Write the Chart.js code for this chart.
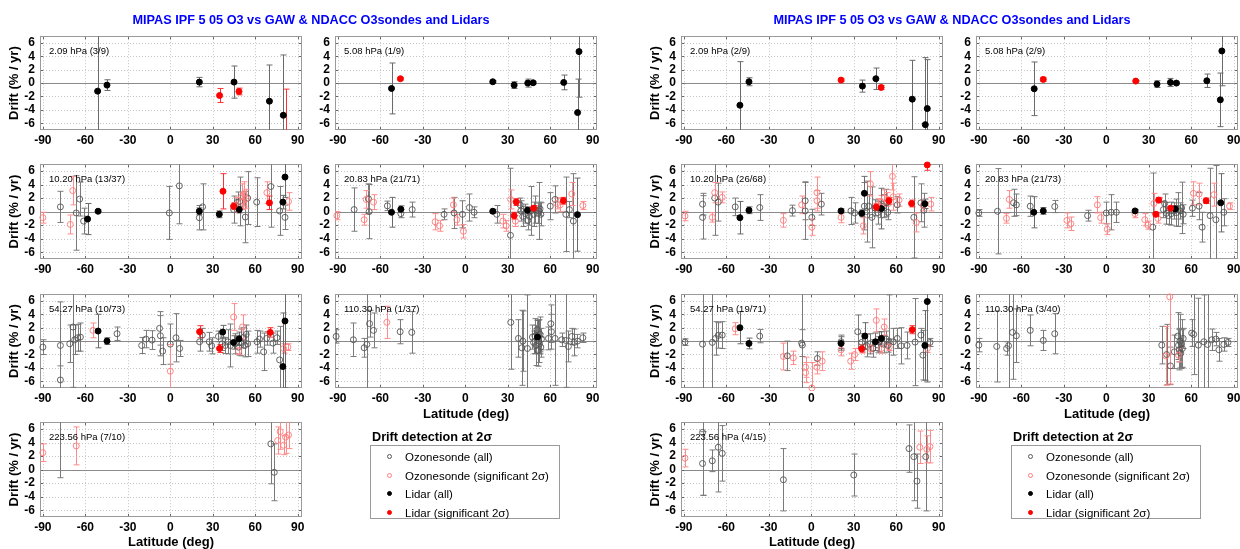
<!DOCTYPE html>
<html>
<head>
<meta charset="utf-8">
<script src="https://cdn.jsdelivr.net/npm/chart.js@4.4.0/dist/chart.umd.min.js"></script>
<style>
  body { margin: 0; background: #fff; width: 1240px; height: 549px; position: relative; overflow: hidden;
         font-family: "Liberation Sans", Arial, sans-serif; }
  canvas { position: absolute; }
  .txt { position: absolute; white-space: nowrap; color: #000; }
  .title { color: #0000ff; font-weight: bold; font-size: 12.7px; line-height: 14px; transform: translateX(-50%); }
  .xlab { font-weight: bold; font-size: 13px; line-height: 15px; transform: translateX(-50%); }
  .legtitle { font-weight: bold; font-size: 12.7px; line-height: 14px; }
  .legbox { position: absolute; border: 1px solid #9a9a9a; width: 190px; height: 74px; box-sizing: border-box; }
  .row { position: absolute; left: 0; height: 14px; font-size: 11.5px; line-height: 14px; }
  .mk { position: absolute; left: 16px; top: 4px; width: 5px; height: 5px; border-radius: 50%; box-sizing: border-box; }
  .row span.l { position: absolute; left: 34px; top: 0; }
</style>
</head>
<body>
<script>
// axes
const xTicks = [-90, -60, -30, 0, 30, 60, 90];
const yTicks = [-6, -4, -2, 0, 2, 4, 6];

// [latitude, drift %/yr, error]
// ---- left figure ----
const L1_lidarAll = [[-51.3,-1.2,9],[-44.7,-0.3,0.8],[20.5,0.15,0.7],[45,0.15,2.4],[70,-2.7,5.4],[79.8,-4.8,9]];
const L1_lidarSig = [[34.8,-1.85,1.05],[48.5,-1.25,0.5],[81.5,-9,8.1]];

const L2_lidarAll = [[-52.1,-0.8,3.8],[19.4,0.2,0.15],[34.5,-0.3,0.5],[44.1,0,0.6],[47.9,0.05,0.2],[69.5,0.1,1.1],[80.3,4.7,6.8],[79.3,-4.4,5]];
const L2_lidarSig = [[-45.8,0.65,0.2]];

const L3_sondeAll = [[-77.6,0.7,2.3],[-66.4,-0.2,5.5],[-64,1.85,2.5],[-61.2,-1.4,1.9],[-0.7,-0.2,3.9],[6.4,3.8,5.6],[20.5,-0.9,1.8],[22.8,0.7,3.4],[44.7,0.3,2],[47.5,1.4,1.5],[49,1.5,3.6],[53,-0.8,3.8],[54.6,2,3.9],[61,1.4,3.6],[71,3.7,6],[77.2,0.1,3.6],[81,-0.85,1.8]];
const L3_sondeSig = [[-90,-0.9,0.8],[-68.9,3.1,2.1],[-70.6,-1.9,1.4],[46.5,1,1.1],[50.5,2.2,1.9],[51.2,1.6,1.2],[52,2.6,1.8],[53.5,1.9,1.4],[68.2,2.8,1.6],[83.5,1.5,1.3]];
const L3_lidarAll = [[-58.4,-1.1,2.3],[-51,0.05,0.2],[20.5,0.05,0.5],[34.6,-0.4,0.5],[48.7,0.3,0.5],[79.5,1.4,1],[81,5.1,3]];
const L3_lidarSig = [[37.2,3,2.6],[44.7,0.8,0.5],[70,1.3,1]];

const L4_sondeAll = [[-78.5,0.3,3.2],[-68.4,1.9,2.2],[-67.9,0,4],[-55,0.85,0.7],[-45.5,-0.3,0.6],[-37.5,0.3,1.1],[-15,-0.4,0.8],[-7.9,-0.2,2.3],[-2,-0.4,2],[2.9,0.6,2],[6.2,-0.1,0.8],[22.2,-0.4,1.3],[31.9,-3.5,9.9],[38.7,1,1],[39.2,0.1,1.5],[40.6,-0.7,1.5],[42.5,-0.3,1.4],[44.1,-1.3,1.4],[45.3,-0.7,1.3],[46.5,0.1,3.6],[48.2,-0.4,1.8],[49.5,0.3,2],[51,-0.25,1.5],[52,0.1,4.2],[52.8,0.4,1],[53.3,-0.4,1.7],[60,0.8,2],[63.4,1.8,2],[71,-0.4,5.5],[73.5,0.3,1.2],[76.3,-1.4,7]];
const L4_sondeSig = [[-90.7,-0.6,0.6],[-71.4,-1.2,0.8],[-70,1.8,1.3],[-64.8,1.4,1.1],[-21.3,-1.5,1.2],[-18.2,-2.1,0.8],[-8.4,1,1],[-6,-1.2,0.8],[-1.3,-2.9,1],[26.5,-1.4,1],[28.8,-2.1,0.8],[32,1.8,1.4],[35.4,-1.4,0.8],[64.5,1.2,0.8],[67,1,1],[75.2,2.6,1.7],[83,0.9,0.6]];
const L4_lidarAll = [[-52.1,-0.1,2.2],[-45.5,0.35,0.5],[19.4,0.05,0.3],[43.9,0.2,0.5],[79.2,-0.45,5.4]];
const L4_lidarSig = [[34.5,-0.6,0.5],[36,1.4,0.5],[48.2,0.5,0.4],[69.3,1.6,0.5]];

const L5_sondeAll = [[-90,-0.9,1.1],[-77.6,-5.8,2.1],[-77.6,-0.65,6.5],[-71,-0.4,2.8],[-68.7,2.1,9],[-67.5,0.2,2.2],[-65.4,0.5,2],[-63.5,0.6,2.1],[-37.6,1.1,1],[-20.2,-0.65,1.2],[-17.2,0.3,1.3],[-12.9,0.15,1.4],[-7.6,1.9,2.5],[-7,0.8,3],[-5.4,-1.5,2],[0,-0.45,3],[4,0.5,3.6],[6.6,-1.1,1.2],[20.7,-0.1,1.4],[22.6,0.9,1],[27.5,-0.1,1.4],[29.2,-0.7,1.2],[34,0.7,0.8],[36.5,-0.4,1],[38.8,-0.65,1.2],[40.7,-0.1,1.8],[42.4,-0.65,3.2],[45.9,-0.4,1.5],[48.2,-0.9,1.2],[49.9,-0.2,2],[51.3,0.5,1.5],[52.5,-0.65,1.7],[53.6,1,1.4],[54.6,-0.4,1.9],[61.2,-0.1,1.7],[63,0.3,1.2],[65.9,-1.6,2.8],[68,0.4,1],[72.5,-0.3,1.5],[75.3,0.5,1],[77.2,-2.8,5]];
const L5_sondeSig = [[-54.6,1.6,1.1],[0,-4.5,4],[44.7,3.6,2],[48.2,-1.5,0.5],[51,2.1,1.8],[80,-1.1,0.7],[83,-0.9,0.5]];
const L5_lidarAll = [[-51,1.5,2.5],[-44.7,0,0.5],[37,1.35,1],[44.7,-0.2,1],[48.5,0.35,1],[81,3,10],[79.5,-3.8,8]];
const L5_lidarSig = [[20.7,1.4,0.9],[34.8,-1.1,0.6],[70.6,1.3,0.7]];

const L6_sondeAll = [[-91.2,0.7,1],[-79,0.2,2.5],[-71.4,-1,1.4],[-69.5,-0.5,8],[-67.6,2.6,2],[-64.8,1.6,2.6],[-46,1.4,1.8],[-37.8,1.3,3.1],[32.1,2.8,7],[37.5,0.4,2.8],[39.9,-1,5.6],[40.6,0,4.5],[43.9,-1.1,8],[47.4,0.6,1.8],[48.2,-0.2,1.7],[49.2,0.75,2.6],[50,-0.65,3],[50.7,1.7,1.4],[51.2,-1.35,2.4],[51.9,0,3.2],[52.4,-0.4,1.5],[52.8,1,2.6],[53.3,-0.9,1.5],[53.8,0.3,1.6],[58.7,0.4,1.7],[60.4,2.6,2.8],[60.8,1.4,2.6],[63.4,0.4,7],[68.1,0.2,1],[71,0.1,7],[72.8,-0.8,2.3],[75.2,0.7,1.2],[76.9,-0.2,2],[79.2,0,1],[83,0.5,0.7]];
const L6_sondeSig = [[-55.4,2.8,2.4]];
const L6_lidarAll = [[51,0.6,2.5]];

const L7_sondeAll = [[-78,8,9.2],[71,3.8,5.9],[73.4,-0.4,4.2]];
const L7_sondeSig = [[-90,2.5,1.3],[-66.4,3.5,2.8],[75.8,4.3,2],[77.6,5.6,2.6],[80,3.6,1.4],[81.4,4.8,2.4],[83.5,5.1,2]];

// ---- right figure ----
const R1_lidarAll = [[-50.4,-3.3,6.5],[-44,0.2,0.6],[36.1,-0.45,0.9],[45.6,0.65,1.6],[71.3,-2.4,5.8],[81.9,-3.8,7.3],[80.5,-6.2,10]];
const R1_lidarSig = [[21,0.45,0.2],[49.3,-0.65,0.3]];

const R2_lidarAll = [[-50.9,-0.85,4],[35.8,-0.15,0.5],[45.3,0.1,0.6],[49.5,0,0.2],[71,0.35,1],[81.6,4.8,5.2],[80.5,-2.5,4]];
const R2_lidarSig = [[-44.5,0.55,0.3],[20.8,0.3,0.1]];

const R3_sondeAll = [[-76.8,1.1,1.6],[-76.8,-0.85,3.2],[-68.2,2,5.5],[-65.7,1.4,2.8],[-53.7,0.7,1.3],[-36.4,0.6,1.9],[-13.3,0.15,0.8],[-4.3,1.6,2.8],[-4.3,0.1,4.2],[0.4,-0.85,1.2],[7.1,1.1,1.6],[28,0.1,2],[30.6,-0.2,1.5],[37.5,0.8,3.5],[39,0,4.5],[40.6,0.8,1.7],[42.8,-0.85,4.5],[44.8,0.55,1.2],[46.8,-0.15,1.7],[48.7,0.3,1.2],[51,0.8,1.7],[52.9,1.3,2],[54,-0.1,1.1],[60.7,1,1.2],[72.4,-0.85,6],[77.4,1.3,2.8],[79.5,0.2,2.5]];
const R3_sondeSig = [[-89.2,-0.65,0.7],[-69.9,-0.85,0.7],[-68.2,2.8,1.5],[-62.9,2.1,0.8],[-19.7,-1.3,1],[-6.8,1,1.3],[0.4,-2.3,1.2],[4,2.8,2.3],[4,1.6,1.5],[21,-0.85,0.8],[36.7,-2.1,1.2],[41.7,4.1,1.8],[46.8,1,0.9],[49.5,1.4,1],[51.5,2,1.2],[53.7,1.8,1],[57.3,5.2,2],[57.9,2.2,2],[62,1.7,0.9],[74.1,-1.6,1.4],[79,0.9,0.8],[84.4,1.1,1]];
const R3_lidarAll = [[-50.4,-0.9,2.4],[-44,0.2,0.5],[21,0.1,0.3],[35.6,-0.25,0.5],[37.5,2.7,2.5],[49.5,0.45,3],[80.2,1.15,0.7]];
const R3_lidarSig = [[45.9,0.65,0.5],[54.8,1.6,0.5],[70.8,1.2,0.5],[81.9,6.9,0.8]];

const R4_sondeAll = [[-90,-0.2,0.5],[-76.8,0.05,6.3],[-65.5,1.3,2],[-63.5,1,1.6],[-53.7,0.8,1.5],[-36.4,0.75,0.9],[-13.2,-0.6,0.8],[0,-0.2,1.6],[3.5,-0.1,2.6],[7.1,-0.1,1.5],[32.8,-2.3,8],[40.3,0.3,1.2],[41.2,1.2,1.4],[42.5,-0.25,1.6],[44,-0.6,1.3],[45.9,-0.3,1.7],[47.6,0.1,1.2],[49.5,-0.15,2],[50.9,0.3,2.5],[52.3,0.1,1.2],[53.2,0.55,3.8],[54.3,-0.4,1.4],[60.8,0.5,1.2],[65.5,0.8,2],[67.7,-2.3,2.2],[73.3,-0.6,7],[77.4,-1.2,8],[83,-0.1,2]];
const R4_sondeSig = [[-70.5,-1,0.7],[-68.5,1.8,1.3],[-27.8,-1.3,1.1],[-25,-1.8,1],[-6.3,1,1.2],[-4,-0.9,0.8],[0.7,-2.6,0.8],[20.3,-0.3,0.6],[27.2,-1.2,0.9],[29.4,-2,0.6],[33.6,1.2,1.5],[36.4,-1,0.7],[61.5,2.7,1.7],[65.5,2.6,1.6],[76,2.5,1.7],[87,0.8,0.5]];
const R4_lidarAll = [[-51.2,-0.1,2.3],[-44.5,0.1,0.5],[20.3,0.1,0.2],[48.7,0.4,0.5],[80.8,1.3,4.3]];
const R4_lidarSig = [[35,-0.4,0.3],[37,1.7,0.4],[45.4,0.5,0.3],[70.5,1.6,0.4]];

const R5_sondeAll = [[-89.2,-0.15,0.5],[-76.8,-0.45,9],[-69.9,-0.2,8],[-67.6,0.4,2.5],[-65.7,0.85,1.9],[-62.9,0.9,2],[-36.4,0.75,1],[-16.9,-2.2,2.2],[-6.8,-0.3,2],[-6.3,-0.6,8],[4.3,-2.6,1],[21,-0.1,1],[32.8,1.4,2.5],[35.6,-0.2,1.3],[39,-0.65,1.7],[41.2,-0.4,1.5],[43.4,-1.1,1.3],[46.8,-0.55,1.2],[48.1,-0.1,1.5],[51,-0.45,1.3],[52.9,0.3,1.2],[54,-0.65,1],[55,-0.1,7],[57.9,-0.1,2],[60.7,0.4,1.5],[63.5,-0.7,2.7],[67.6,-0.65,2],[73.3,-0.15,6.5],[77.4,0.9,1],[78.8,-2.1,3.7],[83.8,-0.2,0.6]];
const R5_sondeSig = [[-53.7,1.85,0.9],[-19.7,-2.3,2],[-12.7,-2.5,1],[-4,-3.9,1.5],[-4,-4.7,1.5],[0.4,-7,3.8],[4,-3.9,1],[7.7,-3,1.4],[21,-1.3,0.9],[27.8,-3,1.2],[30.6,-2,0.9],[42,-1.1,0.5],[45.9,3.1,1.7],[49.5,-1.1,0.7],[51.5,2.1,1.2],[55,-0.9,0.5],[82,-1.1,0.6]];
const R5_lidarAll = [[-50.4,2,2.4],[-44,-0.35,0.8],[21,-0.35,1],[37.8,0.75,2],[45.3,-0.1,1.3],[49.5,0.4,1],[80.2,-0.65,5.2],[81.9,5.9,12]];
const R5_lidarSig = [[35.6,-1.15,0.6],[71.3,1.7,0.6]];

const R6_sondeAll = [[-90,-0.6,1],[-77.4,-0.8,5.3],[-70.4,-1.1,1],[-69,-0.7,8],[-66.2,1.3,7],[-63.5,0.8,4],[-53.7,1.6,2.3],[-44.5,0.1,1.5],[-36.4,1.1,3],[39.2,-0.6,2.8],[42.6,-2,4.5],[45.3,-3.7,2.8],[48.1,-1.6,2.5],[50.5,0.75,3.5],[51,-0.6,2.5],[51.5,-1.3,3],[52,0,4],[52.6,-1.8,2.3],[53.2,-0.4,3.6],[53.7,-1.1,2.8],[54.3,0.4,1.5],[60.3,1.2,2],[61.7,1,6],[65,-0.6,7],[68.9,-0.1,7],[71.5,-0.5,8],[74.5,0.2,1.6],[77.4,0.3,1],[79.5,-1.3,1.7],[83,-0.5,1],[85.9,-0.2,0.6]];
const R6_sondeSig = [[42,-2.2,4.4],[44.8,6.6,13],[51,-2.1,1]];

const R7_sondeAll = [[-76.8,5.5,9.3],[-76.8,0.9,4.7],[-69.9,1.3,1.6],[-65.7,3.3,6.6],[-62.9,2.4,4.1],[-19.7,-1.5,4.6],[30,-0.8,3.1],[69,3.1,3.5],[72.4,1.9,6.5],[74.6,-1.7,4],[80.8,1.9,8]];
const R7_sondeSig = [[-89.2,1.7,1.3],[76.6,3.3,2.4],[81.6,3,2],[83.8,3.4,2.4]];

// panel layout: frame edges in page pixels
const frameX = [40, 335, 681, 976];
const frameY = [[30, 130], [158, 259], [288, 388], [416, 517]];
const frameW = 262;

const panels = [
  {label: '2.09 hPa (3/9)', col: 0, row: 0, sonde: [], sig: [], lidar: L1_lidarAll, lsig: L1_lidarSig},
  {label: '5.08 hPa (1/9)', col: 1, row: 0, sonde: [], sig: [], lidar: L2_lidarAll, lsig: L2_lidarSig},
  {label: '10.20 hPa (13/37)', col: 0, row: 1, sonde: L3_sondeAll, sig: L3_sondeSig, lidar: L3_lidarAll, lsig: L3_lidarSig},
  {label: '20.83 hPa (21/71)', col: 1, row: 1, sonde: L4_sondeAll, sig: L4_sondeSig, lidar: L4_lidarAll, lsig: L4_lidarSig},
  {label: '54.27 hPa (10/73)', col: 0, row: 2, sonde: L5_sondeAll, sig: L5_sondeSig, lidar: L5_lidarAll, lsig: L5_lidarSig},
  {label: '110.30 hPa (1/37)', col: 1, row: 2, sonde: L6_sondeAll, sig: L6_sondeSig, lidar: L6_lidarAll, lsig: []},
  {label: '223.56 hPa (7/10)', col: 0, row: 3, sonde: L7_sondeAll, sig: L7_sondeSig, lidar: [], lsig: []},
  {label: '2.09 hPa (2/9)', col: 2, row: 0, sonde: [], sig: [], lidar: R1_lidarAll, lsig: R1_lidarSig},
  {label: '5.08 hPa (2/9)', col: 3, row: 0, sonde: [], sig: [], lidar: R2_lidarAll, lsig: R2_lidarSig},
  {label: '10.20 hPa (26/68)', col: 2, row: 1, sonde: R3_sondeAll, sig: R3_sondeSig, lidar: R3_lidarAll, lsig: R3_lidarSig},
  {label: '20.83 hPa (21/73)', col: 3, row: 1, sonde: R4_sondeAll, sig: R4_sondeSig, lidar: R4_lidarAll, lsig: R4_lidarSig},
  {label: '54.27 hPa (19/71)', col: 2, row: 2, sonde: R5_sondeAll, sig: R5_sondeSig, lidar: R5_lidarAll, lsig: R5_lidarSig},
  {label: '110.30 hPa (3/40)', col: 3, row: 2, sonde: R6_sondeAll, sig: R6_sondeSig, lidar: [], lsig: []},
  {label: '223.56 hPa (4/15)', col: 2, row: 3, sonde: R7_sondeAll, sig: R7_sondeSig, lidar: [], lsig: []}
];

Chart.defaults.font.family = '"Liberation Sans", Arial, sans-serif';

// dotted grid, zero line, frame and inner tick marks
const gridPlugin = {
  id: 'matGrid',
  beforeDatasetsDraw(chart) {
    const {ctx, chartArea: a, scales: {x, y}} = chart;
    ctx.save();
    ctx.lineWidth = 1;
    ctx.strokeStyle = '#c4c4c4';
    ctx.setLineDash([1, 2]);
    x.ticks.forEach(t => {
      const px = Math.round(x.getPixelForValue(t.value)) + 0.5;
      ctx.beginPath(); ctx.moveTo(px, a.top); ctx.lineTo(px, a.bottom); ctx.stroke();
    });
    y.ticks.forEach(t => {
      if (t.value === 0) return;
      const py = Math.round(y.getPixelForValue(t.value)) + 0.5;
      ctx.beginPath(); ctx.moveTo(a.left, py); ctx.lineTo(a.right, py); ctx.stroke();
    });
    ctx.setLineDash([]);
    ctx.strokeStyle = '#8a8a8a';
    const z = Math.round(y.getPixelForValue(0)) + 0.5;
    ctx.beginPath(); ctx.moveTo(a.left, z); ctx.lineTo(a.right, z); ctx.stroke();
    // inner ticks
    ctx.strokeStyle = '#666';
    x.ticks.forEach(t => {
      const px = Math.round(x.getPixelForValue(t.value)) + 0.5;
      ctx.beginPath();
      ctx.moveTo(px, a.bottom); ctx.lineTo(px, a.bottom - 3);
      ctx.moveTo(px, a.top); ctx.lineTo(px, a.top + 3);
      ctx.stroke();
    });
    y.ticks.forEach(t => {
      const py = Math.round(y.getPixelForValue(t.value)) + 0.5;
      ctx.beginPath();
      ctx.moveTo(a.left, py); ctx.lineTo(a.left + 3, py);
      ctx.moveTo(a.right, py); ctx.lineTo(a.right - 3, py);
      ctx.stroke();
    });
    ctx.strokeStyle = '#9a9a9a';
    ctx.strokeRect(Math.round(a.left) + 0.5, Math.round(a.top) + 0.5, Math.round(a.right - a.left) - 1, Math.round(a.bottom - a.top) - 1);
    ctx.restore();
  }
};

// vertical error bars with caps, under the markers
const errorBars = {
  id: 'errorBars',
  beforeDatasetsDraw(chart) {
    const {ctx, chartArea: a, scales: {x, y}} = chart;
    ctx.save();
    ctx.beginPath();
    ctx.rect(a.left, a.top, a.right - a.left, a.bottom - a.top);
    ctx.clip();
    ctx.lineWidth = 1;
    chart.data.datasets.slice().reverse().forEach(ds => {
      ctx.strokeStyle = ds.errColor;
      ds.data.forEach(p => {
        const px = Math.round(x.getPixelForValue(p.x)) + 0.5;
        const y0 = y.getPixelForValue(p.y - p.e);
        const y1 = y.getPixelForValue(p.y + p.e);
        ctx.beginPath();
        ctx.moveTo(px, y0); ctx.lineTo(px, y1);
        ctx.moveTo(px - 3, y0); ctx.lineTo(px + 3, y0);
        ctx.moveTo(px - 3, y1); ctx.lineTo(px + 3, y1);
        ctx.stroke();
      });
    });
    ctx.restore();
  }
};

// pressure level label in the upper left corner
const levelLabel = {
  id: 'levelLabel',
  afterDraw(chart, args, opts) {
    const {ctx, chartArea: a} = chart;
    ctx.save();
    ctx.font = '9.5px "Liberation Sans", Arial, sans-serif';
    ctx.fillStyle = '#000';
    ctx.textBaseline = 'middle';
    ctx.fillText(opts.text, a.left + 9, a.top + 15.5);
    ctx.restore();
  }
};

const toPts = arr => arr.map(([x, y, e]) => ({x, y, e}));

function makePanel(p) {
  const first = p.col % 2 === 0;
  const yw = first ? 40 : 30;
  const [fy0, fy1] = frameY[p.row];
  const W = yw + frameW + 6, H = 6 + (fy1 - fy0) + 20;
  const cv = document.createElement('canvas');
  cv.width = W; cv.height = H;
  cv.style.left = (frameX[p.col] - yw) + 'px';
  cv.style.top = (fy0 - 6) + 'px';
  cv.style.width = W + 'px'; cv.style.height = H + 'px';
  document.body.appendChild(cv);

  new Chart(cv, {
    type: 'scatter',
    data: {
      datasets: [
        {data: toPts(p.lsig), backgroundColor: '#ff0000', borderColor: '#ff0000', borderWidth: 1, pointRadius: 3, errColor: '#ff3030'},
        {data: toPts(p.lidar), backgroundColor: '#000', borderColor: '#000', borderWidth: 1, pointRadius: 3, errColor: '#6a6a6a'},
        {data: toPts(p.sig), backgroundColor: 'rgba(0,0,0,0)', borderColor: '#ff7a7a', borderWidth: 0.9, pointRadius: 3, errColor: '#ff8c8c'},
        {data: toPts(p.sonde), backgroundColor: 'rgba(0,0,0,0)', borderColor: '#555', borderWidth: 0.9, pointRadius: 3, errColor: '#7a7a7a'}
      ].map(d => Object.assign(d, {clip: 3}))
    },
    options: {
      responsive: false,
      animation: false,
      events: [],
      layout: {padding: {top: 6, right: 6, left: 0, bottom: 0}},
      plugins: {
        legend: {display: false},
        tooltip: {enabled: false},
        levelLabel: {text: p.label}
      },
      scales: {
        x: {
          type: 'linear', min: -92, max: 93,
          afterBuildTicks: s => { s.ticks = xTicks.map(v => ({value: v})); },
          afterFit: s => { s.height = 20; },
          grid: {display: false, drawTicks: false},
          border: {display: false},
          ticks: {color: '#000', font: {size: 12, weight: 'bold'}, padding: 3, maxRotation: 0, autoSkip: false}
        },
        y: {
          type: 'linear', min: -7, max: 7,
          afterBuildTicks: s => { s.ticks = yTicks.map(v => ({value: v})); },
          afterFit: s => { s.width = yw; },
          grid: {display: false, drawTicks: false},
          border: {display: false},
          ticks: {color: '#000', font: {size: 12, weight: 'bold'}, padding: 5, autoSkip: false},
          title: {display: first, text: 'Drift (% / yr)', color: '#000',
                  font: {size: 13, weight: 'bold'}, padding: {top: 7, bottom: 0}}
        }
      }
    },
    plugins: [gridPlugin, errorBars, levelLabel]
  });
}

panels.forEach(makePanel);

// titles, axis labels and legends
function addText(cls, text, left, top) {
  const d = document.createElement('div');
  d.className = 'txt ' + cls;
  d.textContent = text;
  d.style.left = left + 'px';
  d.style.top = top + 'px';
  document.body.appendChild(d);
  return d;
}

const figOffsets = [0, 641];
const legendItems = [
  {text: 'Ozonesonde (all)', fill: 'transparent', stroke: '#555'},
  {text: 'Ozonesonde (significant 2σ)', fill: 'transparent', stroke: '#ff7a7a'},
  {text: 'Lidar (all)', fill: '#000', stroke: '#000'},
  {text: 'Lidar (significant 2σ)', fill: '#ff0000', stroke: '#ff0000'}
];

figOffsets.forEach(off => {
  addText('title', 'MIPAS IPF 5 05 O3 vs GAW & NDACC O3sondes and Lidars', 311 + off, 13);
  addText('xlab', 'Latitude (deg)', 466 + off, 406);
  addText('xlab', 'Latitude (deg)', 171 + off, 534);
  addText('legtitle', 'Drift detection at 2σ', 372 + off, 430);
  const box = document.createElement('div');
  box.className = 'legbox';
  box.style.left = (370 + off) + 'px';
  box.style.top = '445px';
  document.body.appendChild(box);
  [4, 23, 41, 60].forEach((t, i) => {
    const it = legendItems[i];
    const r = document.createElement('div');
    r.className = 'row';
    r.style.top = t + 'px';
    r.style.width = '188px';
    r.innerHTML = '<span class="mk" style="background:' + it.fill + ';border:1px solid ' + it.stroke + '"></span><span class="l"></span>';
    r.querySelector('.l').textContent = it.text;
    box.appendChild(r);
  });
});
</script>
</body>
</html>
